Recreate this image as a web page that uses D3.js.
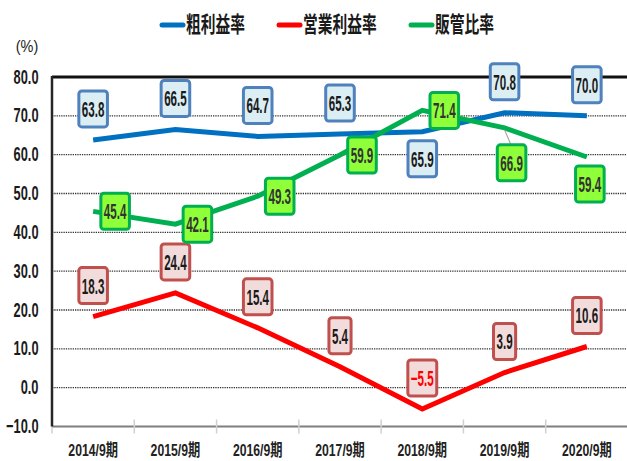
<!DOCTYPE html>
<html>
<head>
<meta charset="utf-8">
<script src="https://cdn.jsdelivr.net/npm/d3@7"></script>
<style>
  html, body { margin: 0; padding: 0; background: #fff; }
  svg { display: block; }
  text { font-family: "Liberation Sans", Arial, "Noto Sans CJK JP", sans-serif; }
</style>
</head>
<body>
<svg id="chart" width="627" height="461"></svg>
<script>
// Fiscal periods and the three ratio series (%)
const periods = ["2014/9期", "2015/9期", "2016/9期", "2017/9期", "2018/9期", "2019/9期", "2020/9期"];
const grossMargin = [63.8, 66.5, 64.7, 65.3, 65.9, 70.8, 70.0];      // 粗利益率
const operatingMargin = [18.3, 24.4, 15.4, 5.4, -5.5, 3.9, 10.6];    // 営業利益率
const sgaRatio = [45.4, 42.1, 49.3, 59.9, 71.4, 66.9, 59.4];         // 販管比率
const yTicks = [-10, 0, 10, 20, 30, 40, 50, 60, 70, 80];

// where each value label sits relative to its point
const grossPlace = ["above", "above", "above", "above", "below", "above", "above"];
const operatingPlace = ["above", "above", "above", "above", "above", "above", "above"];
const sgaPlace = ["right", "right", "right", "right", "right", "belowLeader", "belowNear"];

const svg = d3.select("#chart");
const W = 627, H = 461;
const plot = { left: 52, right: 628, top: 77, bottom: 426.5 };

const x = d3.scaleBand().domain(periods).range([plot.left, plot.right]).padding(0);
const y = d3.scaleLinear().domain([-10, 80]).range([plot.bottom, plot.top]);
const cx = p => x(p) + x.bandwidth() / 2;

// horizontally condensed text helper
function ctext(parent, tx, ty, str, opts) {
  const g = parent.append("g")
    .attr("transform", `translate(${tx},${ty}) scale(${opts.sx},1)`);
  const t = g.append("text")
    .attr("text-anchor", opts.anchor || "middle")
    .attr("dominant-baseline", "central")
    .attr("font-size", opts.size)
    .attr("font-weight", opts.weight || "bold")
    .attr("fill", opts.fill || "#222")
    .text(str);
  if (opts.family) t.attr("font-family", opts.family);
  return t;
}

// horizontal dotted gridlines
svg.append("g").selectAll("line")
  .data(yTicks.filter(v => v > -10 && v < 80))
  .join("line")
  .attr("x1", plot.left).attr("x2", W)
  .attr("y1", d => y(d)).attr("y2", d => y(d))
  .attr("stroke", "#333").attr("stroke-width", 1.4)
  .attr("stroke-dasharray", "1.3,1");

// top frame line
svg.append("line")
  .attr("x1", plot.left).attr("x2", W)
  .attr("y1", y(80)).attr("y2", y(80))
  .attr("stroke", "#111").attr("stroke-width", 3);

// bottom category axis with tick marks at band edges
const xAxis = d3.axisBottom(x).tickSize(0).tickFormat("");
const xg = svg.append("g").attr("transform", `translate(0,${y(-10)})`).call(xAxis);
xg.select(".domain").remove();
svg.append("line")
  .attr("x1", plot.left).attr("x2", W)
  .attr("y1", y(-10)).attr("y2", y(-10))
  .attr("stroke", "#7f7f7f").attr("stroke-width", 2);
svg.append("g").selectAll("line")
  .data(periods.slice(1))
  .join("line")
  .attr("x1", d => x(d)).attr("x2", d => x(d))
  .attr("y1", y(-10) - 7).attr("y2", y(-10) + 7)
  .attr("stroke", "#d0d0d0").attr("stroke-width", 1.5);
svg.append("line")
  .attr("x1", plot.left).attr("x2", plot.left)
  .attr("y1", y(-10)).attr("y2", y(-10) + 7)
  .attr("stroke", "#d0d0d0").attr("stroke-width", 1.5);

// left value axis line
svg.append("line")
  .attr("x1", plot.left).attr("x2", plot.left)
  .attr("y1", y(80) - 1).attr("y2", y(-10))
  .attr("stroke", "#262626").attr("stroke-width", 2.5);

// y tick labels
yTicks.forEach(v => {
  ctext(svg, 38.5, y(v), d3.format(".1f")(v), { sx: 0.64, size: 20, anchor: "end", fill: "#1a1a1a" });
});

// unit label
ctext(svg, 27, 46, "(%)", { sx: 0.85, size: 17, weight: "normal", fill: "#222" });

// category labels
periods.forEach(p => {
  ctext(svg, cx(p), 450, p, { sx: 0.72, size: 17, fill: "#222" });
});

// legend
const legendItems = [
  { name: "粗利益率", color: "#0070c0", x: 160 },
  { name: "営業利益率", color: "#ff0000", x: 277 },
  { name: "販管比率", color: "#00b050", x: 409 }
];
legendItems.forEach(it => {
  svg.append("line")
    .attr("x1", it.x + 2).attr("x2", it.x + 23)
    .attr("y1", 25).attr("y2", 25)
    .attr("stroke", it.color).attr("stroke-width", 5)
    .attr("stroke-linecap", "round");
  ctext(svg, it.x + 26, 24, it.name, {
    sx: 0.67, size: 22, anchor: "start", fill: "#1a1a1a",
    family: "'Noto Sans CJK JP', sans-serif"
  });
});

// series lines
const seriesDefs = [
  { values: grossMargin, color: "#0070c0", place: grossPlace,
    box: { fill: "#dbeef4", stroke: "#4f81bd" }, textColor: "#1a1a1a" },
  { values: operatingMargin, color: "#ff0000", place: operatingPlace,
    box: { fill: "#f2dcdb", stroke: "#c0504d" }, textColor: "#1a1a1a" },
  { values: sgaRatio, color: "#00b050", place: sgaPlace,
    box: { fill: "#8fff3a", stroke: "#00b050" }, textColor: "#333" }
];

const line = d3.line()
  .x((d, i) => cx(periods[i]))
  .y(d => y(d));

seriesDefs.forEach(s => {
  svg.append("path")
    .datum(s.values)
    .attr("d", line)
    .attr("fill", "none")
    .attr("stroke", s.color)
    .attr("stroke-width", 5)
    .attr("stroke-linejoin", "miter")
    .attr("stroke-linecap", "butt");
});

// value label offsets by placement keyword
const offsets = {
  above: [0, -31],
  below: [0, 27],
  right: [22, 0],
  belowLeader: [7, 35],
  belowNear: [3, 27]
};

const labelLayer = svg.append("g");
seriesDefs.forEach(s => {
  s.values.forEach((v, i) => {
    const px = cx(periods[i]), py = y(v);
    const [dx, dy] = offsets[s.place[i]];
    const bx = px + dx, by = py + dy;
    if (s.place[i] === "belowLeader") {
      labelLayer.append("line")
        .attr("x1", px).attr("y1", py + 2)
        .attr("x2", bx - 1).attr("y2", by - 19)
        .attr("stroke", "#a6a6a6").attr("stroke-width", 1.2);
    }
    const g = labelLayer.append("g");
    const rect = g.append("rect");
    const t = ctext(g, bx, by + 0.5, d3.format(".1f")(v), {
      sx: 0.54, size: 21.5, fill: v < 0 ? "#ff0000" : s.textColor
    });
    const tw = t.node().getComputedTextLength() * 0.54;
    const bw = tw + 6, bh = 36;
    rect.attr("x", bx - bw / 2).attr("y", by - bh / 2)
      .attr("width", bw).attr("height", bh)
      .attr("rx", 3).attr("ry", 3)
      .attr("fill", s.box.fill)
      .attr("stroke", s.box.stroke)
      .attr("stroke-width", 3);
  });
});
</script>
</body>
</html>
